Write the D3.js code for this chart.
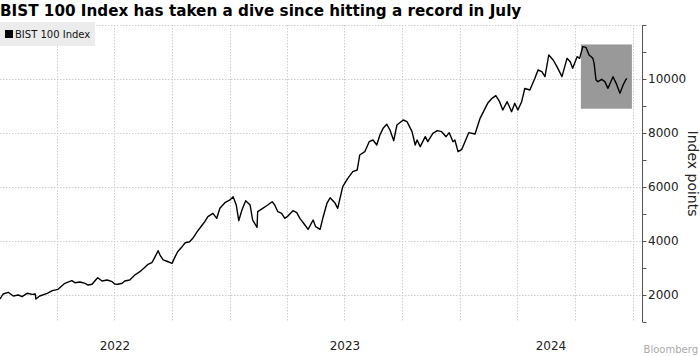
<!DOCTYPE html>
<html><head><meta charset="utf-8">
<script src="https://cdn.jsdelivr.net/npm/d3@7"></script>
<style>body{margin:0;background:#fff;}svg{display:block;}</style>
</head><body>
<svg id="c" width="700" height="356"></svg>
<script>
const title = "BIST 100 Index has taken a dive since hitting a record in July";
const seriesName = "BIST 100 Index";
const yAxisTitle = "Index points";
const sourceText = "Bloomberg";
const dates = ["2022-01-01","2022-01-06","2022-01-14","2022-01-22","2022-01-30","2022-02-05","2022-02-13","2022-02-21","2022-02-26","2022-02-27","2022-03-05","2022-03-17","2022-03-25","2022-04-03","2022-04-14","2022-04-25","2022-04-30","2022-05-08","2022-05-16","2022-05-21","2022-05-27","2022-06-05","2022-06-12","2022-06-20","2022-06-28","2022-07-02","2022-07-07","2022-07-14","2022-07-18","2022-07-26","2022-08-03","2022-08-11","2022-08-19","2022-08-24","2022-08-30","2022-09-02","2022-09-09","2022-09-12","2022-09-17","2022-09-23","2022-10-01","2022-10-06","2022-10-10","2022-10-17","2022-10-22","2022-10-29","2022-11-03","2022-11-10","2022-11-18","2022-11-22","2022-11-27","2022-12-05","2022-12-11","2022-12-16","2022-12-24","2023-01-01","2023-01-06","2023-01-11","2023-01-15","2023-01-20","2023-01-26","2023-02-02","2023-02-06","2023-02-13","2023-02-14","2023-02-22","2023-03-02","2023-03-09","2023-03-13","2023-03-18","2023-03-24","2023-03-29","2023-04-03","2023-04-11","2023-04-17","2023-04-22","2023-04-30","2023-05-05","2023-05-13","2023-05-17","2023-05-24","2023-05-29","2023-06-04","2023-06-09","2023-06-17","2023-06-21","2023-06-29","2023-07-07","2023-07-15","2023-07-22","2023-07-26","2023-08-03","2023-08-10","2023-08-16","2023-08-22","2023-08-27","2023-09-01","2023-09-07","2023-09-12","2023-09-18","2023-09-23","2023-10-03","2023-10-09","2023-10-17","2023-10-22","2023-10-25","2023-10-30","2023-11-07","2023-11-11","2023-11-19","2023-11-26","2023-12-03","2023-12-10","2023-12-15","2023-12-21","2023-12-24","2023-12-29","2024-01-04","2024-01-09","2024-01-15","2024-01-25","2024-02-02","2024-02-10","2024-02-14","2024-02-21","2024-02-27","2024-03-04","2024-03-09","2024-03-16","2024-03-23","2024-03-28","2024-04-02","2024-04-08","2024-04-13","2024-04-21","2024-04-29","2024-05-04","2024-05-10","2024-05-15","2024-05-21","2024-05-28","2024-06-03","2024-06-11","2024-06-19","2024-06-24","2024-06-28","2024-07-05","2024-07-09","2024-07-14","2024-07-19","2024-07-24","2024-07-30","2024-08-01","2024-08-04","2024-08-07","2024-08-13","2024-08-18","2024-08-23","2024-08-31","2024-09-05","2024-09-11","2024-09-16","2024-09-20","2024-09-22"];
const values = [1852,2037,2100,1963,2000,1937,2063,2025,2037,1852,1963,2063,2160,2210,2433,2530,2456,2481,2433,2370,2400,2640,2518,2555,2493,2407,2400,2433,2518,2555,2740,2863,3025,3137,3197,3320,3640,3480,3300,3250,3172,3420,3604,3790,3937,3974,4100,4345,4593,4715,4900,5025,4840,5210,5420,5519,5640,5333,4753,5148,5493,5333,4778,4507,5086,5210,5333,5456,5333,5086,5025,4840,4926,5123,5049,4840,4593,4432,4778,4531,4432,4900,5400,5600,5395,5210,6012,6321,6568,6630,7185,7308,7679,7741,7556,7926,8173,8321,8111,7716,8296,8481,8420,8049,7556,7741,7494,7864,7679,7988,8086,8049,7864,8012,7679,7741,7308,7395,7679,8012,7963,8543,8914,9099,9284,9383,9160,8852,9160,8790,9099,8852,9160,9654,9593,10025,10333,10272,10086,10889,10704,10457,10086,10765,10642,10395,10827,10765,11197,11173,10889,10765,10580,9963,9901,9988,9901,9654,10086,9839,9469,9778,9963,10025];
const yTickValues = [2000,4000,6000,8000,10000];
const xLabels = ["2022","2023","2024"];
const highlightDates = ["2024-07-11","2024-09-30"];
const highlightValues = [8900,11280];

const svg = d3.select("#c");
const parse = d3.utcParse("%Y-%m-%d");
const data = dates.map((d,i)=>({date:parse(d), value:values[i]}));
const xDomain = [parse("2022-01-01"), parse("2024-10-16")];
const x = d3.scaleUtc().domain(xDomain).range([0, 642]);
const y = d3.scaleLinear().domain([1000, 12000]).range([322, 25]);

// gridlines
const grid = svg.append("g");
grid.selectAll("line.h").data(d3.range(2000, 12001, 2000)).join("line")
  .attr("x1", 0).attr("x2", x.range()[1]).attr("y1", d=>Math.round(y(d))+0.5).attr("y2", d=>Math.round(y(d))+0.5)
  .attr("stroke", "#cfcfcf").attr("stroke-dasharray", "1.5,1.5").attr("stroke-width", 1);
const quarters = d3.utcMonth.every(3).range(parse("2022-04-01"), xDomain[1]);
grid.selectAll("line.v").data(quarters).join("line")
  .attr("x1", d=>Math.round(x(d))+0.5).attr("x2", d=>Math.round(x(d))+0.5)
  .attr("y1", y(12000)).attr("y2", y(1000))
  .attr("stroke", "#cfcfcf").attr("stroke-dasharray", "1.5,1.5").attr("stroke-width", 1);

// highlight box
const hd = highlightDates.map(parse);
svg.append("rect")
  .attr("x", x(hd[0])).attr("width", x(hd[1]) - x(hd[0]))
  .attr("y", y(highlightValues[1])).attr("height", y(highlightValues[0]) - y(highlightValues[1]))
  .attr("fill", "#999999");

// line
svg.append("path").datum(data)
  .attr("d", d3.line().x(d=>x(d.date)).y(d=>y(d.value)))
  .attr("fill", "none").attr("stroke", "#000").attr("stroke-width", 1.4).attr("stroke-linejoin", "round");

// y axis
const axis = d3.axisRight(y).tickValues(d3.range(1000, 12001, 1000)).tickSize(4)
  .tickFormat(d => yTickValues.includes(d) ? d : "");
const ag = svg.append("g").attr("transform", "translate(642.5,0)").call(axis);
ag.select(".domain").attr("stroke", "#555").attr("d", `M0,${y(12000)}V${y(1000)}`);
ag.selectAll(".tick line").attr("stroke", "#555");
ag.selectAll(".tick text").attr("x", 5.5).attr("font-family", "DejaVu Sans").attr("font-size", 12).attr("fill", "#222");

svg.append("text").attr("transform", `translate(688,${(y(12000)+y(1000))/2}) rotate(90)`)
  .attr("text-anchor", "middle").attr("font-family", "DejaVu Sans").attr("font-size", 14).attr("fill", "#222")
  .text(yAxisTitle);

// x year labels
const years = xLabels.map(s => {
  const a = parse(s + "-01-01"); const b = new Date(Math.min(+parse((+s+1) + "-01-01"), +xDomain[1]));
  return {s, cx: (x(a) + x(b)) / 2};
});
svg.selectAll("text.yr").data(years).join("text")
  .attr("x", d=>d.cx).attr("y", 350).attr("text-anchor", "middle")
  .attr("font-family", "DejaVu Sans").attr("font-size", 12).attr("fill", "#222").text(d=>d.s);

// title
svg.append("text").attr("x", 0).attr("y", 16).attr("font-family", "DejaVu Sans").attr("font-weight", "bold")
  .attr("font-size", 15.2).attr("fill", "#000").text(title);

// legend
svg.append("rect").attr("x", 0).attr("y", 22).attr("width", 95).attr("height", 24).attr("fill", "#ececec");
svg.append("rect").attr("x", 5).attr("y", 30).attr("width", 8).attr("height", 8).attr("fill", "#000");
svg.append("text").attr("x", 15).attr("y", 38).attr("font-family", "DejaVu Sans").attr("font-size", 10).attr("fill", "#111").text(seriesName);

// source
svg.append("text").attr("x", 698).attr("y", 353).attr("text-anchor", "end").attr("font-family", "DejaVu Sans").attr("font-size", 10).attr("fill", "#aaa").text(sourceText);
</script>
</body></html>
